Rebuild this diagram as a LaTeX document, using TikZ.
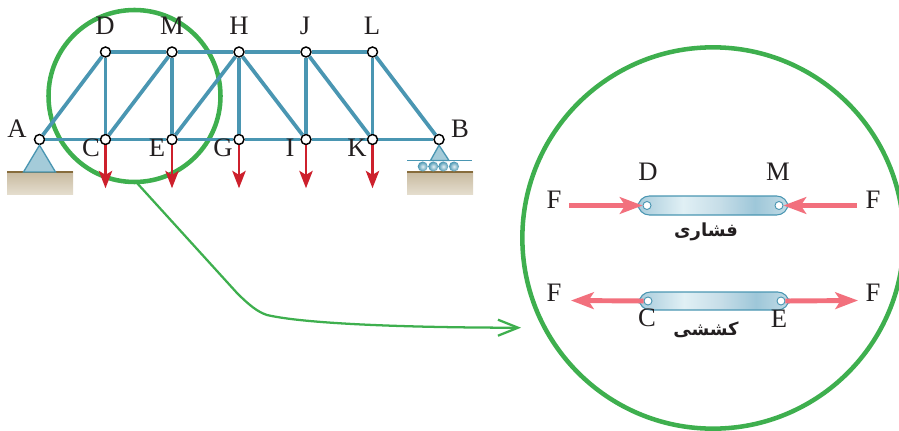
\documentclass[tikz,border=0pt]{standalone}
\usepackage{xcolor}
\usepackage{fontspec}
\usetikzlibrary{arrows.meta}
\TeXXeTstate=1
\setmainfont{Liberation Serif}
\newfontfamily\arabicfont[Script=Arabic]{DejaVu Sans}
\definecolor{memberblue}{RGB}{74,150,178}
\definecolor{ringgreen}{RGB}{62,175,78}
\definecolor{loadred}{RGB}{205,32,44}
\definecolor{forcepink}{RGB}{242,112,125}
\definecolor{groundtop}{RGB}{200,186,160}
\definecolor{groundlow}{RGB}{228,221,205}
\definecolor{groundline}{RGB}{135,108,60}
\definecolor{labelgray}{RGB}{35,31,32}
\pgfdeclarehorizontalshading{linkshade}{100bp}{
  rgb(0bp)=(0.66,0.80,0.86);
  rgb(25bp)=(0.66,0.80,0.86);
  rgb(40bp)=(0.88,0.94,0.96);
  rgb(52bp)=(0.78,0.87,0.91);
  rgb(64bp)=(0.62,0.78,0.85);
  rgb(75bp)=(0.76,0.86,0.90);
  rgb(100bp)=(0.76,0.86,0.90)}
\begin{document}
\begin{tikzpicture}[x=0.75pt,y=-0.75pt,
  joint node/.style={circle, draw=black, fill=white, line width=1.1pt, minimum size=7.5pt, inner sep=0pt},
  pin node/.style={circle, draw=memberblue, fill=white, line width=0.7pt, minimum size=6pt, inner sep=0pt},
  label node/.style={font=\fontsize{20}{20}\selectfont, text=labelgray, inner sep=0pt},
  word node/.style={font=\fontsize{13.5}{13.5}\selectfont\bfseries\arabicfont, text=labelgray, inner sep=0pt},
  ring node/.style={circle, draw=ringgreen, line width=3.4pt, inner sep=0pt},
  member/.style={memberblue, line width=2.8pt},
  heavy member/.style={memberblue, line width=3.4pt},
  load/.style={loadred, line width=2pt, -{Stealth[length=13pt,width=10pt,inset=3pt]}},
  force/.style={forcepink, line width=3.7pt, -{Stealth[length=17pt,width=12.5pt,inset=4pt]}},
  link/.style={draw=memberblue, line width=0.8pt, rounded corners=8.5pt, shade, shading=linkshade}]
  \useasboundingbox (0,0) rectangle (899,431);
  % Ground blocks
  \foreach \gx in {7,407}{
    \fill[top color=groundtop, bottom color=groundlow] (\gx,172) rectangle ++(66,22);
    \draw[groundline, line width=1pt] (\gx,172) -- ++(66,0);
  }
  % Rings
  \node[ring node, minimum size=129pt] (smallring) at (134.5,96) {};
  \node[ring node, minimum size=286pt] (bigring) at (713,238) {};
  % Joints
  \node[joint node] (A) at (39.5,139.5) {};
  \node[joint node] (C) at (105.5,139.5) {};
  \node[joint node] (E) at (172,139.5) {};
  \node[joint node] (G) at (239,139.5) {};
  \node[joint node] (I) at (306,139.5) {};
  \node[joint node] (K) at (372.5,139.5) {};
  \node[joint node] (B) at (439,139.5) {};
  \node[joint node] (D) at (105.5,52) {};
  \node[joint node] (M) at (172,52) {};
  \node[joint node] (H) at (239,52) {};
  \node[joint node] (J) at (306,52) {};
  \node[joint node] (L) at (372.5,52) {};
  % Supports
  \draw[memberblue, line width=1pt, fill=memberblue!50] (A.south) -- (23.5,172) -- (55.5,172) -- cycle;
  \draw[memberblue, line width=1pt, fill=memberblue!50] (B.south) -- (430.5,160.5) -- (449,160.5) -- cycle;
  \draw[memberblue, line width=1pt] (407,160.5) -- (472,160.5);
  \foreach \rx in {422.7,433.3,443.3,454}
    \shade[inner color=memberblue!15, outer color=memberblue] (\rx,166.5) circle (5);
  % Members
  \foreach \p/\q in {A/D,D/M,M/H,H/J,J/L,L/B,A/C,C/E,E/G,G/I,I/K,K/B,D/C,J/I,L/K,C/M,E/H,H/I,J/K}
    \draw[member] (\p) -- (\q);
  \foreach \p/\q in {M/E,H/G}
    \draw[heavy member] (\p) -- (\q);
  % Loads
  \foreach \n in {C,E,G,I,K}
    \draw[load] (\n.south) -- ++(0,43);
  % Leader
  \coordinate (leadstart) at (137,183);
  \coordinate (leadend) at (521,327.7);
  \draw[ringgreen, line width=1.7pt, -{Straight Barb[length=15pt,width=12pt]}] (leadstart) -- (237,293) .. controls (250,306) and (258,312) .. (267,315) .. controls (310,325) and (430,327.7) .. (leadend);
  % Truss labels
  \node[label node] at (105,26) {D};
  \node[label node] at (172,26) {M};
  \node[label node] at (239,26) {H};
  \node[label node] at (305,26) {J};
  \node[label node] at (372,26) {L};
  \node[label node] at (17,129) {A};
  \node[label node] at (91,148) {C};
  \node[label node] at (157,148) {E};
  \node[label node] at (223,148) {G};
  \node[label node] at (290,148) {I};
  \node[label node] at (357,148) {K};
  \node[label node] at (460,129) {B};
  % Compression link
  \path[link] (638,196) rectangle (788,215);
  \node[pin node] (d2) at (647,205.5) {};
  \node[pin node] (m2) at (779,205.5) {};
  \coordinate (fl) at (569,205.5);
  \coordinate (fr) at (857,205.5);
  \draw[force] (fl) -- (d2.west);
  \draw[force] (fr) -- (m2.east);
  \node[label node] at (648,172) {D};
  \node[label node] at (778,172) {M};
  \node[label node] at (554,200) {F};
  \node[label node] at (873,200) {F};
  \node[word node] at (706,232) {\beginR فشاری\endR};
  % Tension link
  \path[link] (639,292) rectangle (789,310);
  \node[pin node] (c2) at (648,301) {};
  \node[pin node] (e2) at (781,301) {};
  \coordinate (gl) at (571,300.5);
  \coordinate (gr) at (858,300.5);
  \draw[force] (c2.west) -- (gl);
  \draw[force] (e2.east) -- (gr);
  \node[label node] at (647,318) {C};
  \node[label node] at (779,319) {E};
  \node[label node] at (554,293) {F};
  \node[label node] at (873,293) {F};
  \node[word node] at (706,330) {\beginR کششی\endR};
\end{tikzpicture}
\end{document}
